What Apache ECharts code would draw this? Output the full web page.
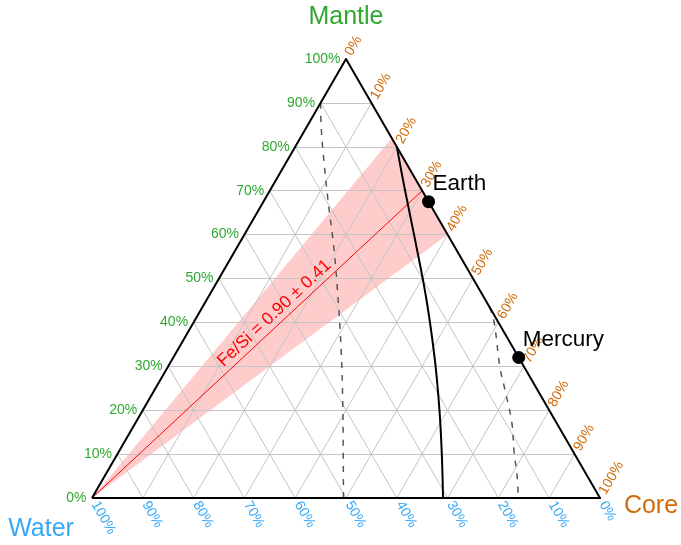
<!DOCTYPE html>
<html>
<head>
<meta charset="utf-8">
<script src="https://cdn.jsdelivr.net/npm/echarts@6/dist/echarts.min.js"></script>
<style>
  html, body { margin: 0; padding: 0; background: #fff; }
  #chart { width: 681px; height: 545px; }
</style>
</head>
<body>
<div id="chart"></div>
<script>
// Compositions are given as [water, mantle, core] fractions.
const tickValues = [0, 10, 20, 30, 40, 50, 60, 70, 80, 90, 100];
const tickLabels = tickValues.map(v => v + '%');

const earth = [0, 0.675, 0.325];
const mercury = [0, 0.32, 0.68];

const feSiLine = [[1, 0, 0], [0, 0.70, 0.30]];
const feSiBand = [[1, 0, 0], [0, 0.82, 0.18], [0, 0.60, 0.40]];
const feSiText = 'Fe/Si = 0.90 ± 0.41';

const solidCurve = [
  [0, 0.80, 0.20], [0.033, 0.702, 0.265], [0.07, 0.588, 0.342], [0.116, 0.451, 0.433],
  [0.168, 0.314, 0.518], [0.216, 0.200, 0.584], [0.26, 0.103, 0.637], [0.309, 0, 0.691]
];
const dashedLeft = [
  [0.10, 0.90, 0], [0.124, 0.85, 0.026], [0.149, 0.793, 0.058], [0.196, 0.679, 0.125],
  [0.241, 0.565, 0.194], [0.29, 0.451, 0.259], [0.341, 0.337, 0.322], [0.395, 0.223, 0.382],
  [0.451, 0.109, 0.44], [0.505, 0, 0.495]
];
const dashedRight = [
  [0, 0.435, 0.565], [0.008, 0.401, 0.591], [0.048, 0.298, 0.654], [0.064, 0.246, 0.69],
  [0.088, 0.171, 0.741], [0.115, 0.109, 0.776], [0.139, 0.048, 0.813], [0.161, 0, 0.839]
];

const GREEN = '#2fa82f';
const BLUE = '#35a8f7';
const ORANGE = '#d06c0a';
const FONT = '"Liberation Sans", Arial, sans-serif';

// ternary [w, m, c] -> cartesian: x = core + mantle/2, y = mantle
function toXY(p) { return [p[2] + p[1] / 2, p[1]]; }

// grid lines every 10%
const gridSegs = [];
for (let i = 1; i < 10; i++) {
  const f = i / 10;
  gridSegs.push({ coords: [toXY([1 - f, f, 0]), toXY([0, f, 1 - f])] });   // constant mantle
  gridSegs.push({ coords: [toXY([1 - f, 0, f]), toXY([0, 1 - f, f])] });   // constant core
  gridSegs.push({ coords: [toXY([f, 0, 1 - f]), toXY([f, 1 - f, 0])] });   // constant water
}

const mantleTicks = tickValues.map((v, i) => ({ value: toXY([1 - v / 100, v / 100, 0]), name: tickLabels[i] }));
const coreTicks = tickValues.map((v, i) => ({ value: toXY([0, 1 - v / 100, v / 100]), name: tickLabels[i] }));
const waterTicks = tickValues.map((v, i) => ({ value: toXY([v / 100, 0, 1 - v / 100]), name: tickLabels[i] }));

// point part-way along the Fe/Si line that carries its label
const tLab = 0.575;
const feSiLabelPt = feSiLine[0].map((a, k) => a + (feSiLine[1][k] - a) * tLab);

const border = [[1, 0, 0], [0, 1, 0], [0, 0, 1], [1, 0, 0]];

const chart = echarts.init(document.getElementById('chart'), null, { renderer: 'canvas' });

function tickSeries(data, color, label) {
  return {
    type: 'scatter', data, symbolSize: 1, itemStyle: { color: '#fff', opacity: 0 },
    silent: true, z: 6,
    label: Object.assign({ show: true, formatter: p => p.name, color, opacity: 1, fontSize: 14, fontFamily: FONT }, label)
  };
}

chart.setOption({
  animation: false,
  grid: { left: 92, top: 59, width: 508, height: 439 },
  xAxis: { type: 'value', min: 0, max: 1, show: false },
  yAxis: { type: 'value', min: 0, max: 1, show: false },
  graphic: [
    { type: 'text', style: { text: 'Mantle', x: 346, y: 17, align: 'center', verticalAlign: 'middle', fill: GREEN, fontSize: 25, fontFamily: FONT } },
    { type: 'text', style: { text: 'Water', x: 41, y: 529, align: 'center', verticalAlign: 'middle', fill: BLUE, fontSize: 25, fontFamily: FONT } },
    { type: 'text', style: { text: 'Core', x: 651, y: 506, align: 'center', verticalAlign: 'middle', fill: ORANGE, fontSize: 25, fontFamily: FONT } }
  ],
  series: [
    {
      type: 'custom', silent: true, z: 1,
      data: [0],
      renderItem: (params, api) => ({
        type: 'polygon',
        shape: { points: feSiBand.map(p => api.coord(toXY(p))) },
        style: { fill: 'rgba(255,0,0,0.2)' }
      })
    },
    {
      type: 'lines', coordinateSystem: 'cartesian2d', silent: true, z: 2,
      data: gridSegs,
      lineStyle: { color: '#c4c4c4', width: 1, opacity: 1 }
    },
    {
      type: 'line', data: feSiLine.map(toXY), symbol: 'none', silent: true, z: 3,
      lineStyle: { color: '#ff0000', width: 1 }
    },
    {
      type: 'line', data: dashedLeft.map(toXY), symbol: 'none', smooth: 0.4, silent: true, z: 3,
      lineStyle: { color: '#555', width: 1.5, type: [6, 7] }
    },
    {
      type: 'line', data: dashedRight.map(toXY), symbol: 'none', smooth: 0.4, silent: true, z: 3,
      lineStyle: { color: '#555', width: 1.5, type: [6, 7] }
    },
    {
      type: 'line', data: solidCurve.map(toXY), symbol: 'none', smooth: 0.4, silent: true, z: 4,
      lineStyle: { color: '#000', width: 2 }
    },
    {
      type: 'line', data: border.map(toXY), symbol: 'none', silent: true, z: 5,
      lineStyle: { color: '#000', width: 2, join: 'miter' }
    },
    {
      type: 'scatter', silent: true, z: 7, symbolSize: 13,
      itemStyle: { color: '#000', opacity: 1 },
      data: [
        { value: toXY(earth), name: 'Earth' },
        { value: toXY(mercury), name: 'Mercury' }
      ],
      label: {
        show: true, formatter: p => p.name, position: 'inside', align: 'left', verticalAlign: 'middle',
        offset: [4, -18], color: '#000', opacity: 1, fontSize: 22.5, fontFamily: FONT
      }
    },
    {
      type: 'scatter', silent: true, z: 7, symbolSize: 1, itemStyle: { color: '#fff', opacity: 0 },
      data: [{ value: toXY(feSiLabelPt), name: feSiText }],
      label: {
        show: true, formatter: p => p.name, position: 'inside', rotate: 43,
        align: 'center', verticalAlign: 'bottom', padding: [0, 0, 2, 0],
        color: '#ff0000', opacity: 1, fontSize: 17.5, fontFamily: FONT
      }
    },
    tickSeries(mantleTicks, GREEN, { position: 'left', distance: 5 }),
    tickSeries(coreTicks, ORANGE, { position: 'inside', rotate: 60, align: 'left', verticalAlign: 'middle', padding: [0, 0, 0, 5] }),
    tickSeries(waterTicks, BLUE, { position: 'inside', rotate: -60, align: 'left', verticalAlign: 'middle', padding: [0, 0, 0, 5] })
  ]
});
</script>
</body>
</html>
